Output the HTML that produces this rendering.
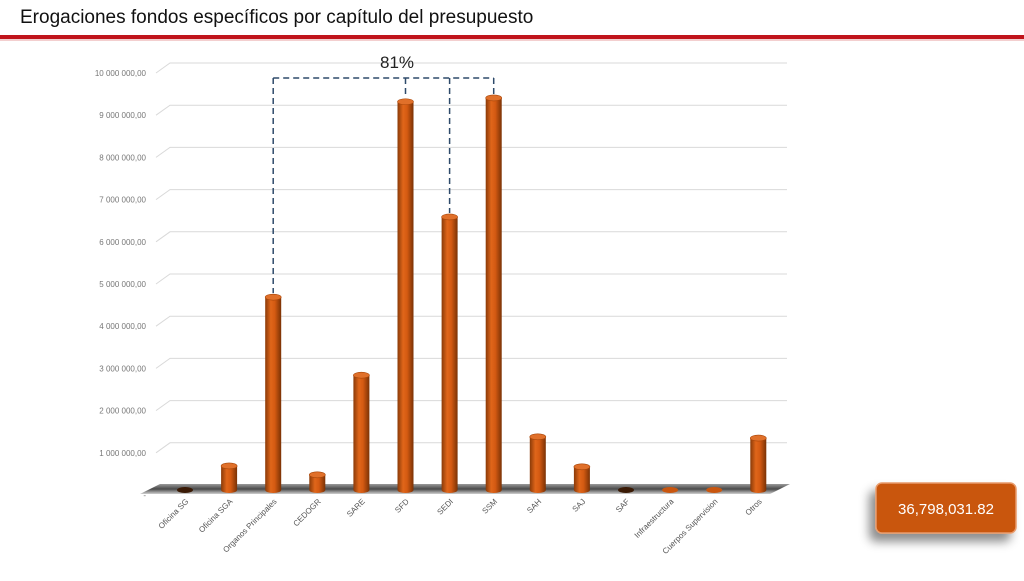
<!DOCTYPE html>
<html><head><meta charset="utf-8"><style>
body{margin:0;width:1024px;height:576px;background:#fff;overflow:hidden;font-family:"Liberation Sans",sans-serif;}
</style></head><body>
<svg width="1024" height="576" xmlns="http://www.w3.org/2000/svg">
<defs>
<linearGradient id="barg" x1="0" x2="1" y1="0" y2="0">
<stop offset="0" stop-color="#8a3a08"/><stop offset="0.35" stop-color="#e0661a"/><stop offset="0.6" stop-color="#d45a12"/><stop offset="1" stop-color="#7a3205"/></linearGradient>
<linearGradient id="floorg" x1="0" x2="0" y1="0" y2="1">
<stop offset="0" stop-color="#9a9a9a"/><stop offset="0.5" stop-color="#4a4a4a"/><stop offset="1" stop-color="#cfcfcf"/></linearGradient>
<filter id="sh" x="-30%" y="-30%" width="160%" height="180%"><feDropShadow dx="-6" dy="8" stdDeviation="5" flood-color="#000" flood-opacity="0.45"/></filter>
</defs>
<text x="20" y="23" font-size="19" fill="#111" font-family="Liberation Sans, sans-serif">Erogaciones fondos específicos por capítulo del presupuesto</text>
<rect x="0" y="35" width="1024" height="4" fill="#c0141b"/>
<rect x="0" y="39" width="1024" height="2" fill="#e8a0a0" opacity="0.5"/>
<g id="grid"></g>
<g id="floor"></g>
<g id="bars"></g>
<g id="xlabels"></g>
<g id="bracket"></g>
<g filter="url(#sh)">
<rect x="876" y="483" width="140" height="50" rx="6" fill="#c9560f" stroke="#e89a6a" stroke-width="1.5"/>
</g>
<text x="946" y="514" text-anchor="middle" font-size="15" fill="#fff">36,798,031.82</text>
</svg>
<script>
const categories=["Oficina SG","Oficina SGA","Organos Principales","CEDOGR","SARE","SFD","SEDI","SSM","SAH","SAJ","SAF","Infraestructura","Cuerpos Supervision","Otros"];
const values=[0,570000,4570000,360000,2720000,9200000,6470000,9290000,1260000,550000,0,20000,20000,1230000];
const tickValues=[0,1000000,2000000,3000000,4000000,5000000,6000000,7000000,8000000,9000000,10000000];
const tickLabels=["-","1 000 000,00","2 000 000,00","3 000 000,00","4 000 000,00","5 000 000,00","6 000 000,00","7 000 000,00","8 000 000,00","9 000 000,00","10 000 000,00"];
const bracketIdx=[2,5,6,7];
const bracketLabel="81%";
const NS="http://www.w3.org/2000/svg";
function mk(t,a,p){const e=document.createElementNS(NS,t);for(const k in a)e.setAttribute(k,a[k]);p.appendChild(e);return e;}
const yAx=v=>495-v*42.2/1000000;       // label / back plane
const yBar=v=>490-v*42.2/1000000;      // bar front
const xAx=i=>185+i*44.1;
const grid=document.getElementById('grid');
tickValues.forEach((v,i)=>{
 const y=yAx(v);
 const t=mk('text',{x:146,y:y+3,'text-anchor':'end','font-size':8,fill:'#777'},grid);
 t.textContent=tickLabels[i];
 
 
 if(i>0){
 const l=mk('polyline',{points:`156,${y} 170,${y-10} 787,${y-10}`,fill:'none',stroke:'#d9d9d9','stroke-width':1},grid);
 
 
 }
});
const fl=mk('polygon',{points:`140,494 770,494 790,484 160,484`,fill:'url(#floorg)'},document.getElementById('floor'));


const bars=document.getElementById('bars'),xl=document.getElementById('xlabels');
categories.forEach((c,i)=>{
 const x=xAx(i),top=yBar(values[i]),w=16,b=490;
 const g=mk('g',{},bars);
 
 
 if(values[i]>50000){
  mk('path',{d:`M${x-w/2},${top} L${x-w/2},${b} A${w/2},3 0 0 0 ${x+w/2},${b} L${x+w/2},${top} Z`,fill:'url(#barg)'},g);
  mk('ellipse',{cx:x,cy:top,rx:w/2,ry:3,fill:'#e0702a',stroke:'#a84508','stroke-width':0.6},g);
 } else {
  mk('ellipse',{cx:x,cy:b,rx:w/2,ry:3,fill:values[i]>0?'#c9560f':'#3a1a05'},g);
 }
 const t=mk('text',{x:0,y:0,'text-anchor':'end','font-size':8,fill:'#555',transform:`translate(${x+4},${b+12}) rotate(-45)`},xl);
 t.textContent=c;
 
 
});
const br=document.getElementById('bracket');
const topY=78;
const xs=bracketIdx.map(xAx);
const ln=mk('line',{x1:xs[0],y1:topY,x2:xs[xs.length-1],y2:topY,stroke:'#2e4a6a','stroke-width':1.5,'stroke-dasharray':'6,4'},br);


bracketIdx.forEach(i=>{
 const v=mk('line',{x1:xAx(i),y1:topY,x2:xAx(i),y2:yBar(values[i])-4,stroke:'#2e4a6a','stroke-width':1.5,'stroke-dasharray':'6,4'},br);
 
 
});
const pl=mk('text',{x:397,y:68,'text-anchor':'middle','font-size':17,fill:'#222'},br);
pl.textContent=bracketLabel;


</script>
</body></html>
